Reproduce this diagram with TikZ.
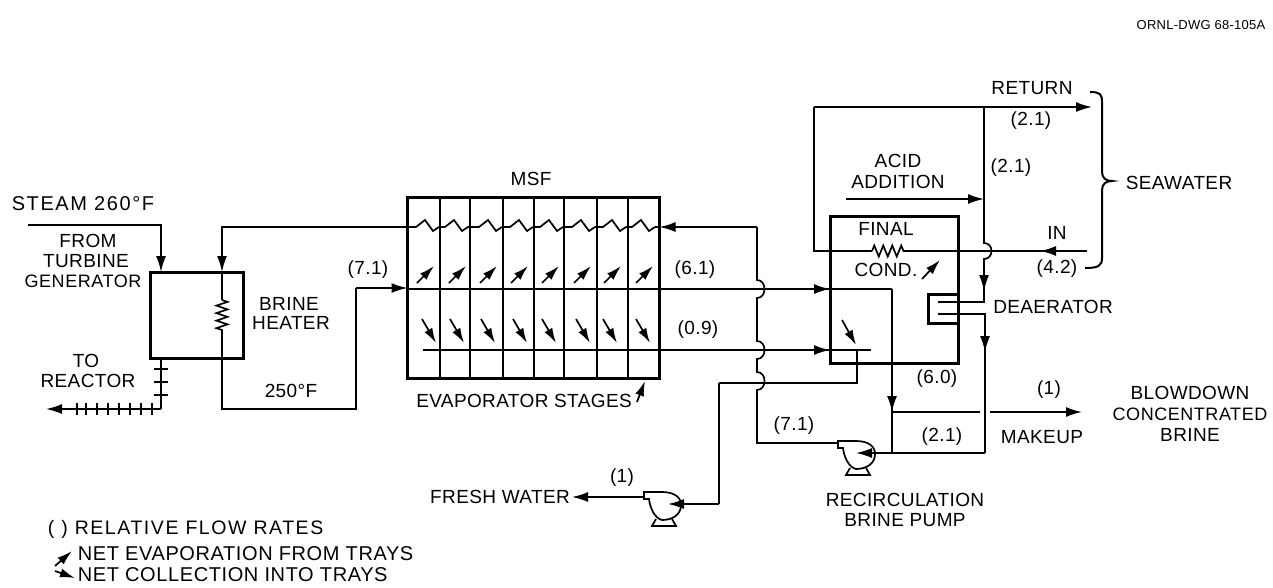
\documentclass[tikz,border=0pt]{standalone}
\usepackage{fontspec}
\setmainfont{Liberation Sans}[LetterSpace=2]
\newfontfamily\widefont{Liberation Sans}[LetterSpace=8]
\newfontfamily\legendfont{Liberation Sans}[LetterSpace=3]
\usetikzlibrary{arrows.meta,decorations.pathmorphing}
\tikzset{
  lbl/.style={inner sep=0pt,font=\fontsize{19}{19}\selectfont},
  legend/.style={lbl,anchor=west,font=\legendfont\fontsize{20}{20}\selectfont},
  vessel/.style={draw,line width=3pt,inner sep=0pt,outer sep=0pt},
  flow/.style={-{Latex[length=16pt,width=10pt]}},
  net/.style={-{Latex[length=15pt,width=9pt]}},
  coil/.style={decorate,decoration={zigzag,segment length=7.5pt,amplitude=5.5pt}},
  pump/.pic={
    \draw[fill=white] (-20,-13) -- (-2,-13) .. controls (10,-13) and (17,-8) .. (17,0)
      .. controls (17,10) and (8,15) .. (-2,15) .. controls (-10,13) and (-14,2) .. (-15,-6)
      -- (-20,-6) -- cycle;
    \draw (-8,14) -- (-12,21) -- (12,21) -- (8,14);
  }
}
\begin{document}
\begin{tikzpicture}[x=1pt,y=-1pt,line width=1.7pt]
  \useasboundingbox (0,0) rectangle (1273,587);
  % vessels
  \node[vessel,minimum width=93pt,minimum height=86pt] (heater) at (196.5,315) {};
  \node[vessel,minimum width=252pt,minimum height=181pt] (msf) at (533.5,287.5) {};
  \node[vessel,minimum width=128pt,minimum height=147pt] (cond) at (894,289.5) {};
  \node[vessel,minimum width=30pt,minimum height=29pt] (deaerator) at (943,308.5) {};
  % junctions
  \coordinate (steam) at (28,225);
  \coordinate (heatin) at (161,225);
  \coordinate (brinein) at (222,227);
  \coordinate (coiltop) at (222,300);
  \coordinate (coilend) at (222,331);
  \coordinate (brineout) at (222,409);
  \coordinate (riser) at (356,409);
  \coordinate (reactor) at (46,409);
  \coordinate (drain) at (161,409);
  \coordinate (hotbrine) at (356,288);
  \coordinate (feed) at (757,227);
  \coordinate (trayline) at (423,350);
  \coordinate (trayend) at (871,350);
  \coordinate (vapor) at (892,289);
  \coordinate (tee) at (892,412);
  \coordinate (blow) at (1082,412);
  \coordinate (recirc) at (892,453);
  \coordinate (makeup) at (985,453);
  \coordinate (ret) at (814,107);
  \coordinate (retend) at (1092,107);
  \coordinate (retdown) at (984,107);
  \coordinate (acid) at (846,199);
  \coordinate (acidend) at (984,199);
  \coordinate (seain) at (1087,251);
  \coordinate (seatip) at (1040,251);
  \coordinate (condin) at (814,251);
  \coordinate (coilleft) at (872,251);
  \coordinate (coilright) at (907,251);
  \coordinate (fresh) at (857,350);
  \coordinate (freshturn) at (719,383);
  \pic (rpump) at (858,454) {pump};
  \pic (fpump) at (664,505) {pump};
  \coordinate (rpumpc) at (856,453);
  \coordinate (fpumpc) at (668,504);
  % steam side
  \draw[flow] (steam) -| (heater.north -| heatin);
  \draw (heater.south -| drain) -- (drain);
  \draw[flow] (drain) -- (reactor);
  \foreach \y in {369,382,395} \draw (154,\y) -- (168,\y);
  \foreach \x in {77,86,97,108,119,130,141,152} \draw (\x,403) -- (\x,415);
  % brine through heater
  \draw[flow] (msf.west |- brinein) -- (brinein) -- (heater.north -| brinein);
  \draw (heater.north -| brinein) -- (coiltop);
  \draw[coil] (coiltop) -- (coilend);
  \draw (coilend) -- (brineout) -- (riser) -- (hotbrine);
  \draw[flow] (hotbrine) -- (msf.west |- hotbrine);
  % stages
  \foreach \x in {440,470,503,534,564,597,628} \draw (\x,197) -- (\x,378);
  \foreach \x [remember=\x as \lastx (initially 385)] in {416,445,479,510,540,572,603,632}
    \draw ({\lastx+23},227) -- (\x,227) -- ++(9,-7) -- ++(8,11) -- ++(6,-4);
  \draw (655,227) -- (660,227);
  \draw (msf.west |- vapor) -- (vapor);
  \draw (trayline) -- (trayend);
  \foreach \x in {417,449,480,511,542,574,604,636} \draw[net] (\x,283) -- ++(17,-17);
  \foreach \x in {422,450,481,513,542,576,603,636} \draw[net] (\x,319) -- ++(14,24);
  \draw[net] (637,402) -- (645,381);
  % feed line with hops
  \draw[flow] (feed) -- (msf.east |- feed);
  \draw (feed) -- (757,280) .. controls (767,280) and (767,298) .. (757,298)
    -- (757,341) .. controls (767,341) and (767,359) .. (757,359)
    -- (757,372) .. controls (767,372) and (767,390) .. (757,390)
    -- (757,443) -- (838,443);
  \draw[flow] (800,289) -- (cond.west |- vapor);
  \draw[flow] (800,350) -- (cond.west |- trayline);
  % final condenser
  \draw (ret) -- (condin) -- (coilleft);
  \draw[coil,decoration={segment length=9pt}] (coilleft) -- (coilright);
  \draw (coilright) -- (seain);
  \draw[flow] (seain) -- (seatip);
  \draw[flow] (ret) -- (retend);
  \draw[flow] (acid) -- (acidend);
  \draw (retdown) -- (984,243) .. controls (994,243) and (994,259) .. (984,259) -- (984,302) -- (938,302);
  \draw[flow] (984,262) -- (984,291);
  \draw[net] (922,279) -- (940,260);
  \draw[net] (842,320) -- (856,345);
  \draw (938,314) -- (makeup |- 938,314) -- (makeup);
  \draw[flow] (makeup |- 938,314) -- (985,352);
  \draw (makeup) -- (recirc);
  % recirculation
  \draw (vapor) -- (recirc);
  \draw[flow] (892,370) -- (tee);
  \draw (tee) -- (980,412);
  \draw[flow] (990,412) -- (blow);
  \draw[flow] (recirc) -- (rpumpc);
  % fresh water
  \draw (fresh) -- (857,383) -- (freshturn);
  \draw (freshturn) -- (719,504);
  \draw[flow] (719,504) -- (fpumpc);
  \draw[flow] (644,497) -- (572,497);
  % labels
  \node[lbl,font=\fontsize{13}{14}\selectfont] (dwg) at (1201,25) {ORNL-DWG 68-105A};
  \node[lbl,font=\widefont\fontsize{20}{20}\selectfont] (steamlbl) at (83,204) {STEAM 260°F};
  \node[lbl] (fromlbl) at (88,241) {FROM};
  \node[lbl] (turbinelbl) at (86,261) {TURBINE};
  \node[lbl,font=\legendfont\fontsize{18}{19}\selectfont] (genlbl) at (83,281) {GENERATOR};
  \node[lbl] (brinelbl) at (289,304) {BRINE};
  \node[lbl] (heaterlbl) at (291,323) {HEATER};
  \node[lbl] (tolbl) at (86,361) {TO};
  \node[lbl] (reactorlbl) at (88,381) {REACTOR};
  \node[lbl] (templbl) at (291,391) {250°F};
  \node[lbl] (flowa) at (368,270) {(7.1)};
  \node[lbl] (msflbl) at (531,179) {MSF};
  \node[lbl] (stageslbl) at (524,401) {EVAPORATOR STAGES};
  \node[lbl] (flowb) at (695,270) {(6.1)};
  \node[lbl] (flowc) at (698,330) {(0.9)};
  \node[lbl] (returnlbl) at (1032,88) {RETURN};
  \node[lbl] (flowd) at (1031,121) {(2.1)};
  \node[lbl] (acidlbl) at (898,161) {ACID};
  \node[lbl] (additionlbl) at (898,182) {ADDITION};
  \node[lbl] (flowe) at (1011,168) {(2.1)};
  \node[lbl] (finallbl) at (886,229) {FINAL};
  \node[lbl] (condlbl) at (886,270) {COND.};
  \node[lbl] (inlbl) at (1057,233) {IN};
  \node[lbl] (flowf) at (1057,269) {(4.2)};
  \node[lbl] (sealbl) at (1179,183) {SEAWATER};
  \node[lbl] (deaeratorlbl) at (1053,307) {DEAERATOR};
  \node[lbl] (flowg) at (937,379) {(6.0)};
  \node[lbl] (flowh) at (1049,390) {(1)};
  \node[lbl] (makeuplbl) at (1042,437) {MAKEUP};
  \node[lbl] (flowi) at (942,437) {(2.1)};
  \node[lbl] (flowj) at (794,426) {(7.1)};
  \node[lbl] (blowlbl) at (1190,393) {BLOWDOWN};
  \node[lbl,font=\legendfont\fontsize{18}{19}\selectfont] (conclbl) at (1190,414) {CONCENTRATED};
  \node[lbl] (brlbl) at (1190,435) {BRINE};
  \node[lbl] (recirclbl) at (905,500) {RECIRCULATION};
  \node[lbl] (pumplbl) at (905,520) {BRINE PUMP};
  \node[lbl] (flowk) at (622,478) {(1)};
  \node[lbl] (freshlbl) at (500,497) {FRESH WATER};
  \node[legend,font=\widefont\fontsize{19.5}{20}\selectfont] (rates) at (47,529) {( ) RELATIVE FLOW RATES};
  \node[legend] (evap) at (77,554) {NET EVAPORATION FROM TRAYS};
  \node[legend] (collect) at (77,575) {NET COLLECTION INTO TRAYS};
  \draw[net] (55,566) -- (72,551);
  \draw[net] (55,571) -- (75,578);
  % seawater brace
  \draw[line width=2pt] (1090,92) .. controls (1100,92) and (1102,94) .. (1102,102) -- (1102,172)
    .. controls (1102,178) and (1106,181) .. (1112,181) .. controls (1106,181) and (1102,184) .. (1102,190)
    -- (1102,258) .. controls (1102,266) and (1098,268) .. (1085,268);
\end{tikzpicture}
\end{document}
